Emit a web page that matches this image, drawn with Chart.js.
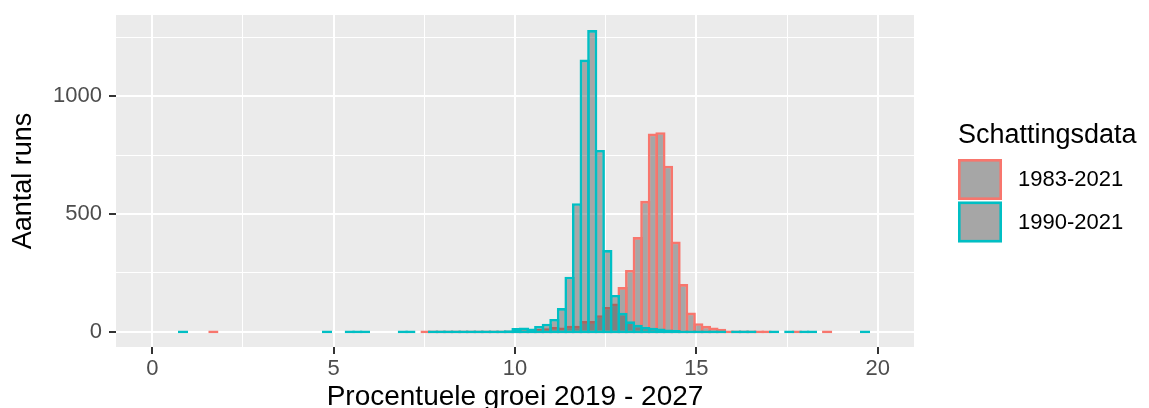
<!DOCTYPE html>
<html>
<head>
<meta charset="utf-8">
<script src="https://cdn.jsdelivr.net/npm/chart.js@4.4.1/dist/chart.umd.min.js"></script>
<style>
html,body{margin:0;padding:0;background:#ffffff;}
canvas{display:block;}
</style>
</head>
<body>
<canvas id="chart" width="1149" height="408"></canvas>
<script>
// ---------------- data ----------------
// histogram bins (centre of first bin and bin width, in % growth)
const binFirstCenter = 0.849;
const binWidth = 0.2089;
const binCount = 91;
const binCenters = Array.from({length: binCount}, (_, k) => +(binFirstCenter + k * binWidth).toFixed(4));

const seriesLabels = ['1983-2021', '1990-2021'];

// counts per bin (null = empty bin, not drawn)
const N = null;
const counts1983 = [
  N, N, N, N, 1, N, N, N, N, N,
  N, N, N, N, N, N, N, N, N, N,
  N, N, N, N, N, N, N, N, N, N,
  N, N, 1, 1, 1, 2, 1, 2, 2, 3,
  3, 4, 4, 5, 5, 7, 8, 12, 16, 21,
  19, 26, 26, 46, 46, 71, 106, 121, 190, 263,
  402, 556, 841, 847, 705, 383, 203, 82, 37, 26,
  19, 13, 6, 3, 2, 2, 1, 1, N, N,
  N, 1, N, N, N, 1, N, N, N, N,
  N
];
const counts1990 = [
  1, N, N, N, N, N, N, N, N, N,
  N, N, N, N, N, N, N, N, N, 1,
  N, N, 1, 1, 1, N, N, N, N, 1,
  1, N, N, 1, 2, 1, 2, 2, 3, 2,
  4, 3, 5, 7, 17, 19, 14, 25, 35, 55,
  101, 234, 546, 1155, 1280, 772, 347, 157, 81, 45,
  30, 21, 18, 14, 10, 8, 6, 5, 4, 3,
  3, 2, N, 2, 1, 1, N, N, 1, N,
  1, N, 1, 1, N, N, N, N, N, N,
  1
];

const xMajorTicks = [0, 5, 10, 15, 20];
const xMinorTicks = [2.5, 7.5, 12.5, 17.5];
const yMajorTicks = [0, 500, 1000];
const yMinorTicks = [250, 750, 1250];

const xTitle = 'Procentuele groei 2019 - 2027';
const yTitle = 'Aantal runs';
const legendTitle = 'Schattingsdata';

// ---------------- styling ----------------
const FONT = '"Liberation Sans", Arial, Helvetica, sans-serif';
const RED = '#F8766D';
const TEAL = '#00BFC4';
const BAR_FILL = 'rgba(77,77,77,0.44)';
const PANEL_BG = '#EBEBEB';
const OUTLINE = 2.6;

const maxCount = Math.max(...counts1983.filter(v => v !== null), ...counts1990.filter(v => v !== null));
const yMin = -0.05 * maxCount;
const yMax = 1.05 * maxCount;

function makeDataset(label, values, color, order) {
  return {
    label: label,
    data: binCenters.map((x, i) => ({x: x, y: values[i]})),
    backgroundColor: BAR_FILL,
    borderColor: color,
    borderWidth: OUTLINE,
    borderSkipped: false,
    inflateAmount: 0,
    grouped: false,
    categoryPercentage: 1,
    barPercentage: 1.343,
    minBarLength: OUTLINE,
    base: -5.5,
    order: order
  };
}

const allX = xMajorTicks.concat(xMinorTicks).sort((a, b) => a - b);
const allY = yMajorTicks.concat(yMinorTicks).sort((a, b) => a - b);

const panelBg = {
  id: 'panelBg',
  beforeDraw(chart) {
    const {ctx, chartArea: a} = chart;
    ctx.save();
    ctx.fillStyle = '#ffffff';
    ctx.fillRect(0, 0, chart.width, chart.height);
    ctx.fillStyle = PANEL_BG;
    ctx.fillRect(a.left, a.top, a.right - a.left, a.bottom - a.top);
    ctx.restore();
  }
};

const ggLegend = {
  id: 'ggLegend',
  afterDraw(chart) {
    const ctx = chart.ctx;
    const x0 = 958;
    ctx.save();
    ctx.fillStyle = '#000000';
    ctx.font = '27px ' + FONT;
    ctx.textBaseline = 'alphabetic';
    ctx.textAlign = 'left';
    ctx.fillText(legendTitle, x0, 143);
    const dsets = chart.data.datasets;
    dsets.forEach((d, i) => {
      const y0 = 159 + i * 42.5;
      ctx.fillStyle = PANEL_BG;
      ctx.fillRect(x0, y0, 44, 41);
      ctx.fillStyle = d.backgroundColor;
      ctx.fillRect(x0 + 1, y0 + 1, 42, 39);
      ctx.strokeStyle = d.borderColor;
      ctx.lineWidth = OUTLINE;
      ctx.strokeRect(x0 + 1.3, y0 + 1.3, 41.4, 38.4);
      ctx.fillStyle = '#000000';
      ctx.font = '22px ' + FONT;
      ctx.textBaseline = 'middle';
      ctx.fillText(d.label, 1018, y0 + 21);
    });
    ctx.restore();
  }
};

new Chart(document.getElementById('chart'), {
  type: 'bar',
  data: {
    datasets: [
      makeDataset(seriesLabels[0], counts1983, RED, 2),
      makeDataset(seriesLabels[1], counts1990, TEAL, 1)
    ]
  },
  options: {
    responsive: false,
    animation: false,
    layout: {padding: {left: 0, right: 235, top: 15, bottom: 0}},
    plugins: {legend: {display: false}, tooltip: {enabled: false}},
    scales: {
      x: {
        type: 'linear',
        min: -1,
        max: 21,
        offset: false,
        afterBuildTicks: s => { s.ticks = allX.map(v => ({value: v})); },
        afterFit: s => { s.height = 61; s.paddingLeft = 0; s.paddingRight = 0; },
        ticks: {
          autoSkip: false,
          maxRotation: 0,
          minRotation: 0,
          padding: 2,
          color: '#4D4D4D',
          font: {family: FONT, size: 22},
          callback: v => xMajorTicks.includes(v) ? String(v) : ''
        },
        grid: {
          offset: false,
          color: '#FFFFFF',
          lineWidth: c => (c.tick && xMajorTicks.includes(c.tick.value)) ? 2 : 1,
          drawTicks: true,
          tickLength: 7,
          tickWidth: 2,
          tickColor: c => (c.tick && xMajorTicks.includes(c.tick.value)) ? '#333333' : 'rgba(0,0,0,0)'
        },
        border: {display: false},
        title: {
          display: true,
          text: xTitle,
          color: '#000000',
          font: {family: FONT, size: 28, lineHeight: 1},
          padding: {top: 0, bottom: -3}
        }
      },
      y: {
        type: 'linear',
        min: yMin,
        max: yMax,
        afterBuildTicks: s => { s.ticks = allY.map(v => ({value: v})); },
        afterFit: s => { s.width = 116; s.paddingTop = 0; s.paddingBottom = 0; },
        ticks: {
          padding: 7,
          color: '#4D4D4D',
          font: {family: FONT, size: 22},
          callback: v => yMajorTicks.includes(v) ? String(v) : ''
        },
        grid: {
          color: '#FFFFFF',
          lineWidth: c => (c.tick && yMajorTicks.includes(c.tick.value)) ? 2 : 1,
          drawTicks: true,
          tickLength: 7,
          tickWidth: 2,
          tickColor: c => (c.tick && yMajorTicks.includes(c.tick.value)) ? '#333333' : 'rgba(0,0,0,0)'
        },
        border: {display: false},
        title: {
          display: true,
          text: yTitle,
          color: '#000000',
          font: {family: FONT, size: 27, lineHeight: 1},
          padding: {top: 10.5, bottom: 0}
        }
      }
    }
  },
  plugins: [panelBg, ggLegend]
});
</script>
</body>
</html>
